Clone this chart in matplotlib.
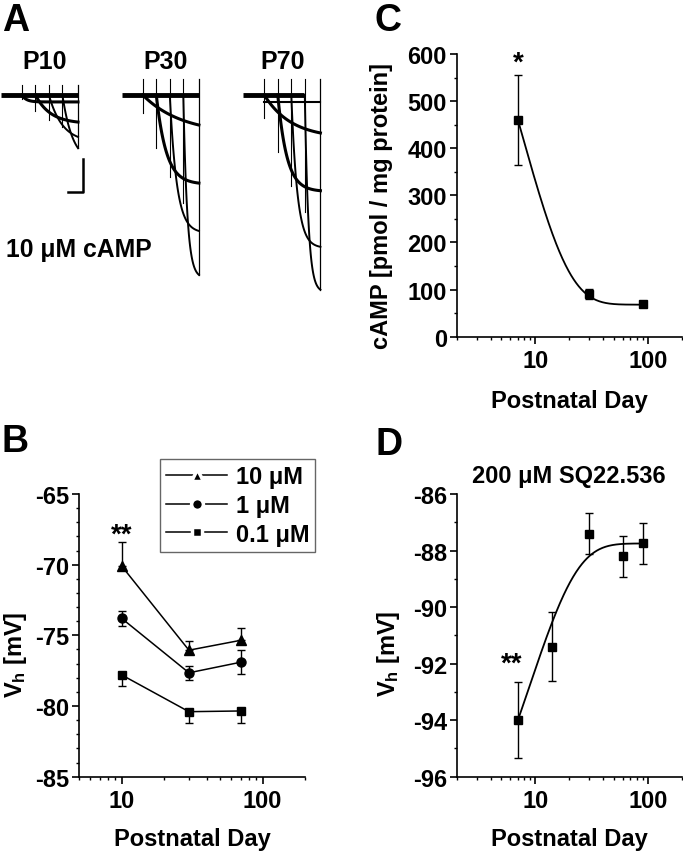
import numpy as np
import matplotlib
matplotlib.use("Agg")
import matplotlib.pyplot as plt
from matplotlib.lines import Line2D
from matplotlib.ticker import MultipleLocator, NullFormatter, FixedLocator

plt.rcParams['font.family'] = ['Liberation Sans', 'DejaVu Sans']
plt.rcParams['font.weight'] = 'bold'
plt.rcParams['axes.labelweight'] = 'bold'
plt.rcParams['axes.unicode_minus'] = False
plt.rcParams['mathtext.fontset'] = 'custom'
plt.rcParams['mathtext.rm'] = 'Liberation Sans:bold'
plt.rcParams['mathtext.bf'] = 'Liberation Sans:bold'
plt.rcParams['mathtext.it'] = 'Liberation Sans:bold'

# ---- panel A: current traces (time in s, current in nA) ----
trace_groups = ['P10', 'P30', 'P70']
group_start = [0.03, 4.06, 8.11]
step_onsets = [0.70, 1.15, 1.60, 2.05]
step_end = 2.57
p10_amp = [-0.21, -0.82, -1.27, -1.61]
p30_amp = [-0.91, -2.67, -4.12, -5.45]
p70_amp = [-1.15, -2.90, -4.60, -5.90]
p10_tau = [0.15, 0.50, 0.45, 0.35]
p30_tau = [1.30, 0.33, 0.23, 0.13]
p70_tau = [0.90, 0.30, 0.20, 0.12]
smallest_step = [0.0, 0.0, -0.2]
baseline_end = [2.57, 2.57, 2.02]

# ---- panel B: Vh vs postnatal day, three cAMP concentrations ----
b_days = [10, 30, 70]
b_10um = [-70.1, -76.05, -75.35]
b_10um_err = [1.7, 0.65, 0.9]
b_1um = [-73.8, -77.65, -76.9]
b_1um_err = [0.55, 0.5, 0.85]
b_01um = [-77.8, -80.4, -80.35]
b_01um_err = [0.75, 0.8, 0.85]

# ---- panel C: cAMP content ----
c_days = [7, 30, 90]
c_camp = [460, 91, 69]
c_camp_err = [96, 10, 5]
c_fit_plateau, c_fit_amp, c_fit_tau = 68, 997, 7.5

# ---- panel D: Vh with SQ22.536 ----
d_days = [7, 14, 30, 60, 90]
d_vh = [-94.0, -91.4, -87.4, -88.2, -87.75]
d_vh_err = [1.35, 1.22, 0.73, 0.72, 0.73]
d_fit_plateau, d_fit_amp, d_fit_tau = -87.75, 13.85, 8.8

W, H = 683, 853
fig = plt.figure(figsize=(W / 100, H / 100), dpi=100)
FS = 17


def px_axes(left, top, right, bottom):
    return fig.add_axes([left / W, 1 - bottom / H, (right - left) / W, (bottom - top) / H])


def style(ax):
    for s in ['top', 'right']:
        ax.spines[s].set_visible(False)
    for s in ['left', 'bottom']:
        ax.spines[s].set_linewidth(1.2)
    ax.set_xscale('log')
    ax.xaxis.set_major_locator(FixedLocator([10, 100]))
    ax.set_xticklabels(['10', '100'])
    ax.xaxis.set_minor_formatter(NullFormatter())
    ax.tick_params(which='major', direction='out', length=5, width=1.2, labelsize=FS)
    ax.tick_params(axis='y', which='major', pad=2)
    ax.tick_params(axis='x', which='major', pad=4)
    ax.tick_params(which='minor', direction='out', length=2.5, width=1)
    ax.set_xlabel('Postnatal Day', fontsize=FS)


# panel A
ax_a = px_axes(0, 70, 340, 300)
ax_a.axis('off')
ax_a.set_xlim(0, 340 / 30)
ax_a.set_ylim(-204 / 33, 26 / 33)
amps_all = [p10_amp, p30_amp, p70_amp]
taus_all = [p10_tau, p30_tau, p70_tau]
for g, name in enumerate(trace_groups):
    t0 = group_start[g]
    amps = amps_all[g]
    taus = taus_all[g]
    ax_a.plot([t0, t0 + baseline_end[g]], [0, 0], color='k', lw=3.5, solid_capstyle='butt')
    if smallest_step[g] != 0:
        ax_a.plot([t0 + step_onsets[0], t0 + step_end], [smallest_step[g]] * 2, color='k', lw=1.5)
    spike = 0.3 if g == 0 else 0.5
    for i, on in enumerate(step_onsets):
        t = np.linspace(on, step_end, 120)
        y = amps[i] * (1 - np.exp(-(t - on) / taus[i])) / (1 - np.exp(-(step_end - on) / taus[i]))
        ax_a.plot(t0 + t, y, color='k', lw=2.2 if i < 2 else 1.4)
        ax_a.plot([t0 + on] * 2, [spike, 0.6 * amps[i]], color='k', lw=0.8)
    ax_a.plot([t0 + step_end] * 2, [spike, min(amps)], color='k', lw=0.9)
    ax_a.text(t0 + 1.45 - (0.15 if g == 2 else 0), 1.03, name, ha='center', va='center', fontsize=18)
# scale bar: 0.5 s, 1 nA
ax_a.plot([2.28, 2.28 + 0.5, 2.28 + 0.5], [-2.94, -2.94, -2.94 + 1.0], color='k', lw=1.8)
ax_a.text(0.2, -4.67, '10 μM cAMP', ha='left', va='center', fontsize=17.8)

# panel B
ax_b = px_axes(79.3, 495, 305, 777.7)
style(ax_b)
ax_b.errorbar(b_days, b_10um, yerr=[[0] * 3, b_10um_err], color='k', marker='^', ms=7.5,
              lw=1.1, elinewidth=1, capsize=3)
ax_b.errorbar(b_days, b_1um, yerr=b_1um_err, color='k', marker='o', ms=6.5,
              lw=1.1, elinewidth=1, capsize=3)
ax_b.errorbar(b_days, b_01um, yerr=[b_01um_err, [0] * 3], color='k', marker='s', ms=6,
              lw=1.1, elinewidth=1, capsize=3)
ax_b.set_xlim(5, 200)
ax_b.set_ylim(-85, -65)
ax_b.yaxis.set_major_locator(MultipleLocator(5))
ax_b.yaxis.set_minor_locator(MultipleLocator(1))
ax_b.set_ylabel('V$_\\mathregular{h}$ [mV]', fontsize=FS)
ax_b.yaxis.set_label_coords(-0.225, 0.434)
ax_b.xaxis.set_label_coords(0.5, -0.178)
ax_b.text(10, -67.9, '**', ha='center', va='center', fontsize=20)
handles = [Line2D([], [], color='k', lw=1.1, marker=m, ms=ms, markeredgecolor='white', markeredgewidth=2.5)
           for m, ms in [('^', 9), ('o', 8.5), ('s', 7.5)]]
leg = ax_b.legend(handles, ['10 μM', '1 μM', '0.1 μM'], loc='upper left',
                  bbox_to_anchor=(160 / W, 1 - 460 / H), bbox_transform=fig.transFigure,
                  fontsize=FS, handlelength=2.6, handletextpad=0.35, borderpad=0.25,
                  labelspacing=0.25, fancybox=False, framealpha=1, borderaxespad=0)
leg.get_frame().set_edgecolor('#666666')
leg.get_frame().set_linewidth(1)

# panel C
ax_c = px_axes(456.7, 55, 681.7, 337.7)
style(ax_c)
xf = np.logspace(np.log10(c_days[0]), np.log10(c_days[-1]), 200)
ax_c.plot(xf, c_fit_plateau + c_fit_amp * np.exp(-xf / c_fit_tau), color='k', lw=1.3)
ax_c.errorbar(c_days, c_camp, yerr=c_camp_err, fmt='s', color='k', ms=6, elinewidth=1, capsize=3)
ax_c.set_xlim(2, 200)
ax_c.set_ylim(0, 600)
ax_c.yaxis.set_major_locator(MultipleLocator(100))
ax_c.yaxis.set_minor_locator(MultipleLocator(50))
ax_c.set_ylabel('cAMP [pmol / mg protein]', fontsize=FS)
ax_c.yaxis.set_label_coords(-0.283, 0.466)
ax_c.xaxis.set_label_coords(0.5, -0.185)
ax_c.text(7, 582, '*', ha='center', va='center', fontsize=20)

# panel D
ax_d = px_axes(456.7, 495, 681.7, 777.7)
style(ax_d)
xf = np.logspace(np.log10(d_days[0]), np.log10(d_days[-1]), 200)
ax_d.plot(xf, d_fit_plateau - d_fit_amp * np.exp(-xf / d_fit_tau), color='k', lw=1.3)
ax_d.errorbar(d_days, d_vh, yerr=d_vh_err, fmt='s', color='k', ms=6, elinewidth=1, capsize=3)
ax_d.set_xlim(2, 200)
ax_d.set_ylim(-96, -86)
ax_d.yaxis.set_major_locator(MultipleLocator(2))
ax_d.yaxis.set_minor_locator(MultipleLocator(1))
ax_d.set_ylabel('V$_\\mathregular{h}$ [mV]', fontsize=FS)
ax_d.yaxis.set_label_coords(-0.244, 0.44)
ax_d.xaxis.set_label_coords(0.5, -0.178)
ax_d.set_title('200 μM SQ22.536', fontsize=FS, fontweight='bold', pad=8.6)
ax_d.text(6.2, -92.0, '**', ha='center', va='center', fontsize=20)

# panel letters
for letter, x, y in [('A', 2, 3), ('B', 2, 424), ('C', 375, 3), ('D', 375, 427)]:
    fig.text(x / W, 1 - y / H, letter, fontsize=27, fontweight='bold', va='top', ha='left')

fig.savefig('out.png', dpi=100)
